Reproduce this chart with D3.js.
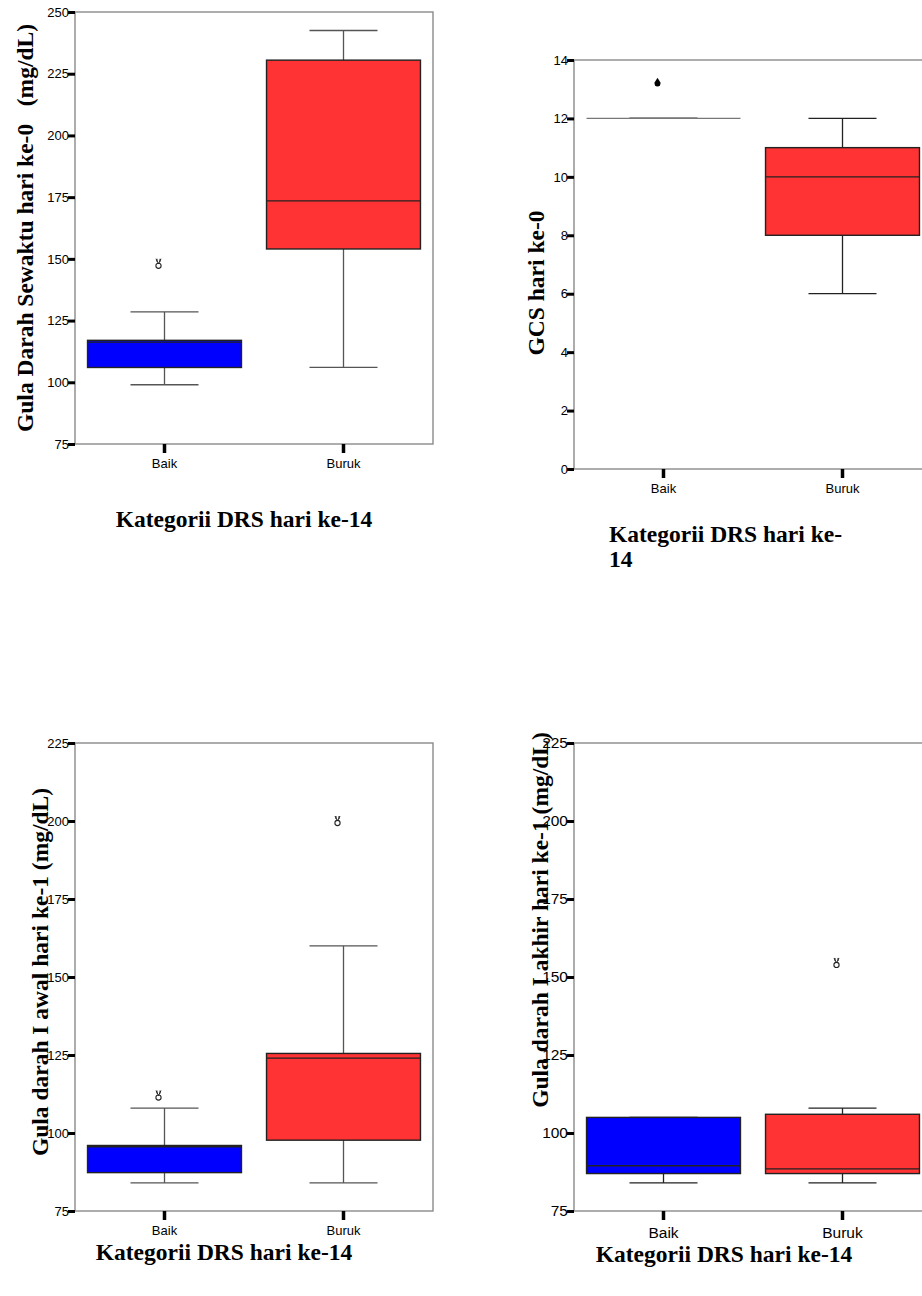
<!DOCTYPE html>
<html>
<head>
<meta charset="utf-8">
<script src="https://cdn.jsdelivr.net/npm/d3@7"></script>
<style>
  body { margin: 0; background: #fff; }
  svg { display: block; }
  .ytitle, .xtitle { font-family: "Liberation Serif", "Times New Roman", serif; font-weight: bold; white-space: pre; }
  .tick text { font-family: "Liberation Sans", Arial, sans-serif; fill: #000; }
</style>
</head>
<body>
<script>

var categories = ["Baik", "Buruk"];

// Gula Darah Sewaktu hari ke-0
var gdsMin = [99, 106];
var gdsQ1 = [106, 154];
var gdsMedian = [116.3, 173.5];
var gdsQ3 = [117, 230.5];
var gdsMax = [128.5, 242.5];
var gdsOutliers = [[148], []];
var gdsTicks = [75, 100, 125, 150, 175, 200, 225, 250];

// GCS hari ke-0
var gcsMin = [12, 6];
var gcsQ1 = [12, 8];
var gcsMedian = [12, 10];
var gcsQ3 = [12, 11];
var gcsMax = [12, 12];
var gcsOutliers = [[13.2], []];
var gcsTicks = [0, 2, 4, 6, 8, 10, 12, 14];

// Gula darah I awal hari ke-1
var awalMin = [84, 84];
var awalQ1 = [87.3, 97.7];
var awalMedian = [95.6, 124];
var awalQ3 = [96, 125.5];
var awalMax = [108, 160];
var awalOutliers = [[112], [200]];
var awalTicks = [75, 100, 125, 150, 175, 200, 225];

// Gula darah I akhir hari ke-1
var akhirMin = [84, 84];
var akhirQ1 = [87, 87];
var akhirMedian = [89.5, 88.5];
var akhirQ3 = [105, 106];
var akhirMax = [105, 108];
var akhirOutliers = [[], [154.5]];
var akhirTicks = [75, 100, 125, 150, 175, 200, 225];

var boxColors = ["#0000ff", "#ff3333"];

var W = 922, H = 1296;

var svg = d3.select("body")
    .append("svg")
    .attr("width", W)
    .attr("height", H);

function drawPanel(p) {
    var x = d3.scaleBand()
        .domain(categories)
        .range([p.left, p.left + p.width]);

    var y = d3.scaleLinear()
        .domain([p.ticks[0], p.ticks[p.ticks.length - 1]])
        .range([p.top + p.height, p.top]);

    var g = svg.append("g");

    // frame
    g.append("rect")
        .attr("x", p.left)
        .attr("y", p.top)
        .attr("width", p.width)
        .attr("height", p.height)
        .attr("fill", "none")
        .attr("stroke", "#8a8a8a")
        .attr("stroke-width", 1.4);

    var rows = categories.map(function (c, i) {
        return {
            cat: c, i: i,
            min: p.min[i], q1: p.q1[i], med: p.med[i], q3: p.q3[i], max: p.max[i],
            out: p.out[i]
        };
    });

    var bw = x.bandwidth() * 0.86;
    var cw = x.bandwidth() * 0.38;

    var box = g.selectAll("g.box")
        .data(rows)
        .enter()
        .append("g")
        .attr("class", "box");

    // whiskers
    box.append("line")
        .attr("x1", function (d) { return x(d.cat) + x.bandwidth() / 2; })
        .attr("x2", function (d) { return x(d.cat) + x.bandwidth() / 2; })
        .attr("y1", function (d) { return y(d.max); })
        .attr("y2", function (d) { return y(d.min); })
        .attr("stroke", p.whisker)
        .attr("stroke-width", 1.3);

    box.selectAll("line.cap")
        .data(function (d) { return [d, d].map(function (r, k) { return { cat: r.cat, v: k ? r.min : r.max }; }); })
        .enter()
        .append("line")
        .attr("class", "cap")
        .attr("x1", function (d) { return x(d.cat) + x.bandwidth() / 2 - cw / 2; })
        .attr("x2", function (d) { return x(d.cat) + x.bandwidth() / 2 + cw / 2; })
        .attr("y1", function (d) { return y(d.v); })
        .attr("y2", function (d) { return y(d.v); })
        .attr("stroke", p.whisker)
        .attr("stroke-width", 1.3);

    // boxes
    box.append("rect")
        .attr("x", function (d) { return x(d.cat) + (x.bandwidth() - bw) / 2; })
        .attr("y", function (d) { return y(d.q3); })
        .attr("width", bw)
        .attr("height", function (d) { return y(d.q1) - y(d.q3); })
        .attr("fill", function (d) { return boxColors[d.i]; })
        .attr("stroke", function (d) { return d.q1 === d.q3 ? "#777" : "#222"; })
        .attr("stroke-width", 1.4);

    box.append("line")
        .attr("x1", function (d) { return x(d.cat) + (x.bandwidth() - bw) / 2; })
        .attr("x2", function (d) { return x(d.cat) + (x.bandwidth() + bw) / 2; })
        .attr("y1", function (d) { return y(d.med); })
        .attr("y2", function (d) { return y(d.med); })
        .attr("stroke", function (d) { return d.q1 === d.q3 ? "#777" : "#222"; })
        .attr("stroke-width", 1.3);

    // outliers
    box.selectAll("g.out")
        .data(function (d) { return d.out.map(function (v) { return { cat: d.cat, v: v }; }); })
        .enter()
        .append("g")
        .attr("class", "out")
        .attr("transform", function (d) {
            return "translate(" + (x(d.cat) + x.bandwidth() / 2 - 6) + "," + y(d.v) + ")";
        })
        .each(function () {
            var o = d3.select(this);
            if (p.filledOutlier) {
                o.append("path")
                    .attr("d", "M0,-5.5 L2.8,-1 A3,3 0 1 1 -2.8,-1 Z")
                    .attr("fill", "#000");
            } else {
                o.append("circle")
                    .attr("cy", 2)
                    .attr("r", 2.6)
                    .attr("fill", "none")
                    .attr("stroke", "#222")
                    .attr("stroke-width", 1.1);
                o.append("path")
                    .attr("d", "M-2.5,-5 L0,0 L2.5,-5 M-1.5,-5 L-1.5,-2 M1.5,-5 L1.5,-2")
                    .attr("fill", "none")
                    .attr("stroke", "#222")
                    .attr("stroke-width", 1);
            }
        });

    // y axis
    var ya = g.append("g")
        .attr("transform", "translate(" + p.left + ",0)")
        .call(d3.axisLeft(y).tickValues(p.ticks).tickSize(7).tickPadding(-1));
    ya.select(".domain").remove();
    ya.selectAll(".tick line").attr("stroke", "#000").attr("stroke-width", 3);
    ya.selectAll(".tick text").attr("font-size", p.tickFont);

    // x axis
    var xa = g.append("g")
        .attr("transform", "translate(0," + (p.top + p.height) + ")")
        .call(d3.axisBottom(x).tickSize(9).tickPadding(p.xPad));
    xa.select(".domain").remove();
    xa.selectAll(".tick line").attr("stroke", "#000").attr("stroke-width", 3.5);
    xa.selectAll(".tick text").attr("font-size", p.tickFont);

    // titles
    svg.append("text")
        .attr("class", "ytitle")
        .attr("transform", "translate(" + p.yTitleX + "," + p.yTitleY + ") rotate(-90)")
        .attr("text-anchor", "middle")
        .attr("font-size", p.titleFont)
        .text(p.yTitle);

    var xt = svg.append("text")
        .attr("class", "xtitle")
        .attr("font-size", p.titleFont)
        .attr("text-anchor", p.xTitleAnchor)
        .attr("x", p.xTitleX)
        .attr("y", p.xTitleY);
    xt.selectAll("tspan")
        .data(p.xTitle)
        .enter()
        .append("tspan")
        .attr("x", p.xTitleX)
        .attr("dy", function (d, i) { return i ? "1.08em" : 0; })
        .text(function (d) { return d; });
}

drawPanel({
    left: 75, top: 12, width: 358, height: 432,
    ticks: gdsTicks, min: gdsMin, q1: gdsQ1, med: gdsMedian, q3: gdsQ3, max: gdsMax, out: gdsOutliers,
    whisker: "#555", tickFont: 13, xPad: 6, titleFont: 23.5,
    yTitle: "Gula Darah Sewaktu hari ke-0   (mg/dL)", yTitleX: 33, yTitleY: 228,
    xTitle: ["Kategorii DRS hari ke-14"], xTitleX: 244, xTitleY: 527, xTitleAnchor: "middle"
});

drawPanel({
    left: 574, top: 60, width: 358, height: 409,
    ticks: gcsTicks, min: gcsMin, q1: gcsQ1, med: gcsMedian, q3: gcsQ3, max: gcsMax, out: gcsOutliers,
    whisker: "#222", tickFont: 13, xPad: 6, titleFont: 23.5, filledOutlier: true,
    yTitle: "GCS hari ke-0", yTitleX: 544, yTitleY: 283,
    xTitle: ["Kategorii DRS hari ke-", "14"], xTitleX: 609, xTitleY: 542, xTitleAnchor: "start"
});

drawPanel({
    left: 75, top: 743, width: 358, height: 468,
    ticks: awalTicks, min: awalMin, q1: awalQ1, med: awalMedian, q3: awalQ3, max: awalMax, out: awalOutliers,
    whisker: "#555", tickFont: 13, xPad: 6, titleFont: 23.5,
    yTitle: "Gula darah I awal hari ke-1 (mg/dL)", yTitleX: 48, yTitleY: 972,
    xTitle: ["Kategorii DRS hari ke-14"], xTitleX: 224, xTitleY: 1260, xTitleAnchor: "middle"
});

drawPanel({
    left: 574, top: 743, width: 358, height: 468,
    ticks: akhirTicks, min: akhirMin, q1: akhirQ1, med: akhirMedian, q3: akhirQ3, max: akhirMax, out: akhirOutliers,
    whisker: "#222", tickFont: 15.5, xPad: 7, titleFont: 23.5,
    yTitle: "Gula darah I akhir hari ke-1 (mg/dL)", yTitleX: 548, yTitleY: 920,
    xTitle: ["Kategorii DRS hari ke-14"], xTitleX: 724, xTitleY: 1262, xTitleAnchor: "middle"
});

</script>
</body>
</html>
